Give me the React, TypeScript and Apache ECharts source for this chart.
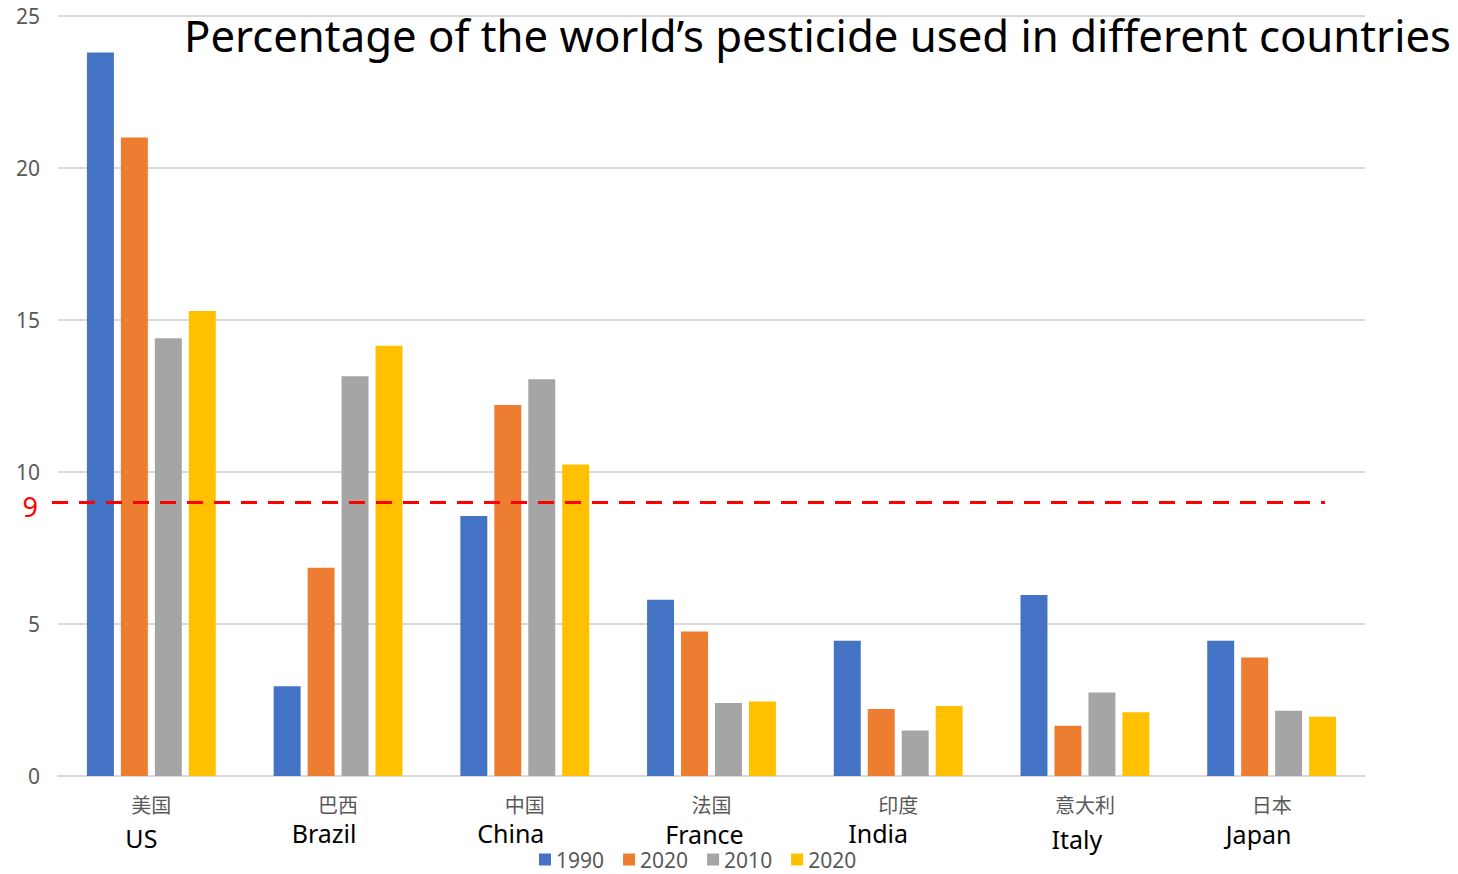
import React, { useEffect, useRef } from "react";
import * as echarts from "echarts";

const categoriesCn = ["美国", "巴西", "中国", "法国", "印度", "意大利", "日本"];
const categoriesEn = ["US", "Brazil", "China", "France", "India", "Italy", "Japan"];
const legendNames = ["1990", "2020", "2010", "2020"];
const series1990 = [23.8, 2.95, 8.55, 5.8, 4.45, 5.95, 4.45];
const series2020a = [21.0, 6.85, 12.2, 4.75, 2.2, 1.65, 3.9];
const series2010 = [14.4, 13.15, 13.05, 2.4, 1.5, 2.75, 2.15];
const series2020b = [15.3, 14.15, 10.25, 2.45, 2.3, 2.1, 1.95];
const yTicks = [0, 5, 10, 15, 20, 25];
const thresholdValue = 9;

// label nudges (layout only): [dx, dy]
const enNudge: number[][] = [
  [-10, 9],
  [-14, 4],
  [-14, 4],
  [-7, 5],
  [-20, 4],
  [-8, 10],
  [-13, 5],
];

const colors = ["#4472C4", "#ED7D31", "#A5A5A5", "#FFC000"];
const FONT = "'Noto Sans', 'Noto Sans CJK SC', sans-serif";

export default function App() {
  const ref = useRef<HTMLDivElement>(null);
  useEffect(() => {
    if (!ref.current) return;
    const chart = echarts.init(ref.current, undefined, { renderer: "svg" });
    const seriesData = [series1990, series2020a, series2010, series2020b];
    const ids = ["s0", "s1", "s2", "s3"];
    const rich: any = {
      cn: { fontSize: 20, color: "#595959", lineHeight: 22, fontFamily: FONT },
    };
    enNudge.forEach(([dx, dy], i) => {
      rich["e" + i] = {
        fontSize: 25,
        color: "#000000",
        lineHeight: 26,
        fontFamily: FONT,
        padding: [Math.max(0, dy * 2), Math.max(0, -dx * 2), Math.max(0, -dy * 2), Math.max(0, dx * 2)],
      };
    });
    const option: any = {
      animation: false,
      backgroundColor: "#ffffff",
      textStyle: { fontFamily: FONT },
      title: {
        text: "Percentage of the world\u2019s pesticide used in different countries",
        right: 2,
        top: 8,
        textStyle: { fontSize: 43.7, fontWeight: "normal", color: "#000000", fontFamily: FONT },
      },
      legend: {
        data: ids,
        formatter: (name: string) => legendNames[ids.indexOf(name)],
        left: 539,
        top: 849,
        itemWidth: 12,
        itemHeight: 12,
        itemGap: 19,
        icon: "rect",
        padding: 0,
        textStyle: { fontSize: 21, color: "#595959", fontFamily: FONT },
      },
      grid: { left: 58, right: 93, top: 16, bottom: 98, containLabel: false },
      xAxis: {
        type: "category",
        data: categoriesCn,
        axisLine: { lineStyle: { color: "#D9D9D9", width: 2 } },
        axisTick: { show: false },
        axisLabel: {
          margin: 18,
          interval: 0,
          formatter: (v: string, i: number) => `{cn|${v}}\n{e${i}|${categoriesEn[i]}}`,
          rich,
        },
      },
      yAxis: {
        type: "value",
        min: 0,
        max: 25,
        interval: 5,
        axisLine: { show: false },
        axisTick: { show: false },
        splitLine: { lineStyle: { color: "#D9D9D9", width: 2 } },
        axisLabel: {
          margin: 18,
          fontSize: 21,
          color: "#595959",
          fontFamily: FONT,
          formatter: (v: number) => (yTicks.includes(v) ? String(v) : ""),
        },
      },
      series: seriesData.map((d, i) => ({
        id: ids[i],
        name: ids[i],
        type: "bar",
        data: d,
        barGap: "26%",
        barCategoryGap: "31%",
        itemStyle: { color: colors[i] },
        markLine:
          i === 0
            ? {
                silent: true,
                symbol: "none",
                lineStyle: { color: "#FF0000", width: 3, type: [16, 11] },
                label: {
                  show: true,
                  position: "start",
                  formatter: "{n|" + thresholdValue + "}",
                  distance: 14,
                  rich: {
                    n: { color: "#FF0000", fontSize: 27, fontFamily: FONT, padding: [8, 0, 0, 0] },
                  },
                },
                data: [[{ x: 52, yAxis: thresholdValue }, { x: 1325, yAxis: thresholdValue }]],
              }
            : undefined,
      })),
    };
    chart.setOption(option);
    return () => chart.dispose();
  }, []);
  return <div ref={ref} style={{ position: "fixed", left: 0, top: 0, width: 1458, height: 874 }} />;
}
